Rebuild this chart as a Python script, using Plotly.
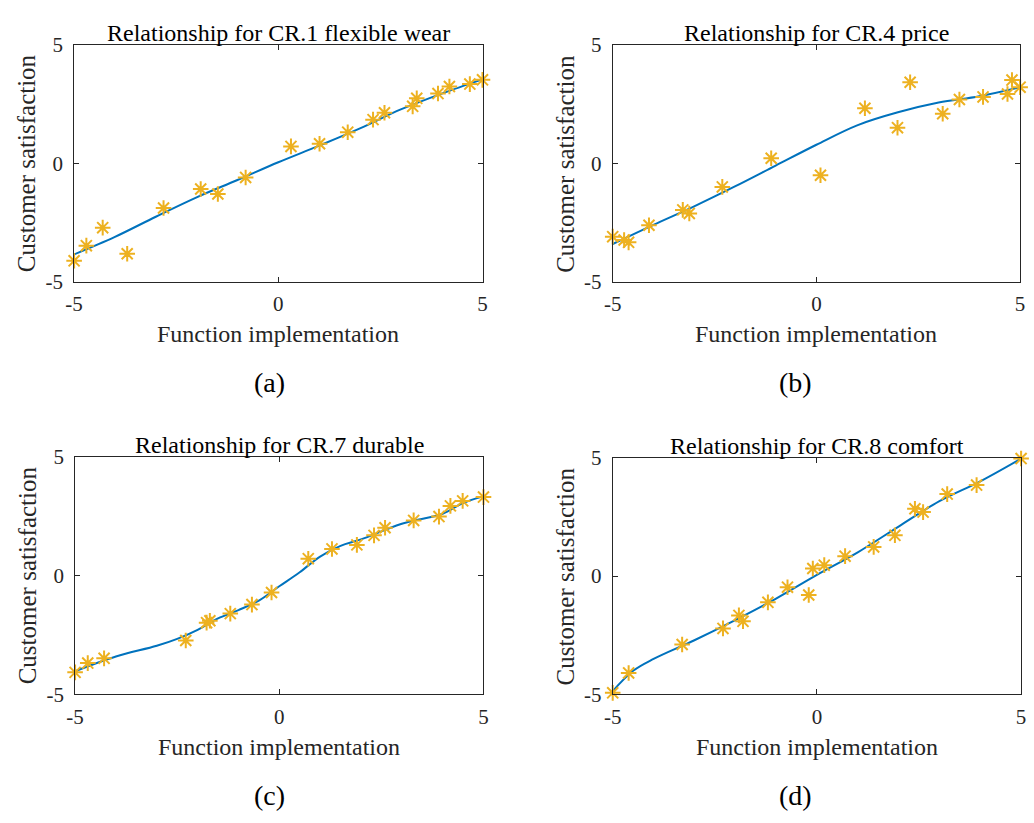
import plotly.graph_objects as go

W, H = 1034, 823

# ---------------- data ----------------
titles = ["Relationship for CR.1 flexible wear", "Relationship for CR.4 price",
          "Relationship for CR.7 durable", "Relationship for CR.8 comfort"]
captions = ["(a)", "(b)", "(c)", "(d)"]
tick_vals = [-5, 0, 5]
tick_text = ["-5", "0", "5"]

# scatter points
a_x = [-5.0, -4.70, -4.30, -3.70, -2.81, -1.90, -1.48, -0.80, 0.31, 1.01, 1.70, 2.32, 2.60, 3.29, 3.39, 3.91, 4.19, 4.69, 5.0]
a_y = [-4.11, -3.47, -2.71, -3.81, -1.88, -1.08, -1.29, -0.59, 0.72, 0.83, 1.32, 1.85, 2.14, 2.41, 2.75, 2.95, 3.25, 3.35, 3.53]
b_x = [-5.0, -4.72, -4.61, -4.11, -3.28, -3.12, -2.31, -1.11, 0.10, 1.19, 1.99, 2.30, 3.10, 3.51, 4.09, 4.69, 4.80, 5.0]
b_y = [-3.09, -3.23, -3.33, -2.61, -1.96, -2.11, -0.99, 0.22, -0.50, 2.33, 1.51, 3.43, 2.10, 2.70, 2.81, 2.93, 3.52, 3.22]
c_x = [-5.0, -4.69, -4.29, -2.29, -1.78, -1.70, -1.20, -0.67, -0.19, 0.71, 1.29, 1.90, 2.32, 2.59, 3.29, 3.91, 4.19, 4.49, 5.0]
c_y = [-4.07, -3.68, -3.48, -2.73, -1.98, -1.90, -1.60, -1.22, -0.71, 0.71, 1.12, 1.29, 1.69, 2.01, 2.32, 2.48, 2.93, 3.14, 3.30]
d_x = [-5.0, -4.61, -3.30, -2.30, -1.91, -1.81, -1.20, -0.72, -0.20, -0.10, 0.18, 0.69, 1.39, 1.91, 2.40, 2.60, 3.19, 3.91, 5.0]
d_y = [-4.93, -4.09, -2.89, -2.21, -1.66, -1.91, -1.11, -0.47, -0.80, 0.32, 0.46, 0.84, 1.23, 1.72, 2.84, 2.70, 3.46, 3.84, 4.96]

# fitted curves
a_fx = [-5, -4, -3, -2, -1, 0, 1, 2, 3, 4, 5]
a_fy = [-3.84, -3.10, -2.25, -1.43, -0.70, 0.05, 0.75, 1.48, 2.28, 2.95, 3.55]
b_fx = [-5, -4, -3, -2, -1, 0, 1, 2, 3, 4, 5]
b_fy = [-3.40, -2.59, -1.81, -0.97, -0.09, 0.79, 1.61, 2.16, 2.57, 2.84, 3.22]
c_fx = [-5, -4, -3, -2.5, -2, -1.5, -1, -0.5, 0, 0.5, 1, 1.5, 2, 3, 4, 4.5, 5]
c_fy = [-4.02, -3.40, -2.95, -2.66, -2.28, -1.80, -1.45, -1.05, -0.45, 0.14, 0.80, 1.25, 1.52, 2.18, 2.60, 3.05, 3.33]
d_fx = [-5, -4.5, -4, -3, -2, -1, 0, 1, 2, 3, 4, 5]
d_fy = [-4.86, -4.00, -3.50, -2.71, -1.86, -0.95, 0.05, 1.00, 2.09, 3.16, 4.00, 4.96]

points = [(a_x, a_y), (b_x, b_y), (c_x, c_y), (d_x, d_y)]
curves = [(a_fx, a_fy), (b_fx, b_fy), (c_fx, c_fy), (d_fx, d_fy)]

# ---------------- layout (pixels) ----------------
boxes = [  # left, right, top, bottom in px
    (66, 480, 34, 278),
    (612, 1025, 34, 278),
    (67, 481, 458, 703),
    (612, 1026, 459, 703),
]
cap_x = [264, 797, 264, 797]

FONT = "Times New Roman, Liberation Serif, serif"
TXT = "#262626"

fig = go.Figure()
layout = dict(width=W, height=H, margin=dict(l=0, r=0, t=0, b=0),
              paper_bgcolor="white", plot_bgcolor="white", showlegend=False,
              font=dict(family=FONT, color=TXT))
annotations = []

for i in range(4):
    n = "" if i == 0 else str(i + 1)
    xa, ya = "x" + n, "y" + n
    l, r, t, b = boxes[i]
    fx, fy = curves[i]
    px, py = points[i]
    fig.add_trace(go.Scatter(x=fx, y=fy, mode="lines", xaxis=xa, yaxis=ya,
                             line=dict(color="#0072BD", width=2, shape="spline", smoothing=1.0)))
    fig.add_trace(go.Scatter(x=px, y=py, mode="markers", xaxis=xa, yaxis=ya, cliponaxis=False,
                             marker=dict(symbol="asterisk-open", size=13, color="#EDB120",
                                         line=dict(color="#EDB120", width=2))))
    common = dict(range=[-5, 5], tickvals=tick_vals, ticktext=tick_text, showline=True,
                  linecolor=TXT, linewidth=1, mirror="ticks", ticks="inside", ticklen=5,
                  tickcolor=TXT, showgrid=False, zeroline=False,
                  tickfont=dict(family=FONT, size=21, color=TXT))
    layout["xaxis" + n] = dict(domain=[l / W, r / W], anchor=ya, ticklabelstandoff=3, **common)
    layout["yaxis" + n] = dict(domain=[1 - b / H, 1 - t / H], anchor=xa, ticklabelstandoff=6, **common)

    cx = (l + r) / 2
    cy = (t + b) / 2
    annotations.append(dict(text=titles[i], x=cx / W, y=1 - (t - 12) / H, xref="paper", yref="paper",
                            showarrow=False, xanchor="center", yanchor="middle",
                            font=dict(family=FONT, size=24, color="black")))
    annotations.append(dict(text="Function implementation", x=cx / W, y=1 - (b + 54) / H,
                            xref="paper", yref="paper", showarrow=False, xanchor="center",
                            yanchor="middle", font=dict(family=FONT, size=24, color=TXT)))
    annotations.append(dict(text="Customer satisfaction", x=(l - 48) / W, y=1 - cy / H,
                            xref="paper", yref="paper", showarrow=False, xanchor="center",
                            yanchor="middle", textangle=-90,
                            font=dict(family=FONT, size=25, color=TXT)))
    annotations.append(dict(text=captions[i], x=cap_x[i] / W, y=1 - (b + 104) / H,
                            xref="paper", yref="paper", showarrow=False, xanchor="center",
                            yanchor="middle", font=dict(family=FONT, size=28, color="black")))

layout["annotations"] = annotations
fig.update_layout(**layout)
fig.write_html("out.html", config={"displayModeBar": False},
               post_script="document.body.style.margin='0px';document.body.style.overflow='hidden';")
